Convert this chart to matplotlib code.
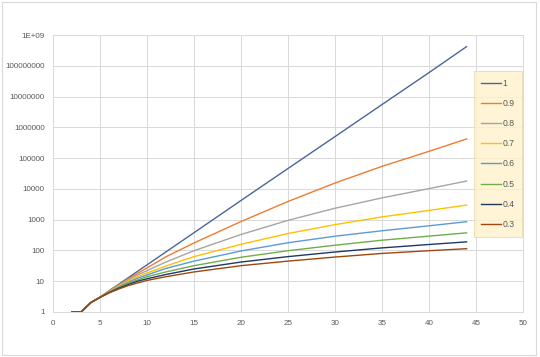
import matplotlib
matplotlib.use("Agg")
import matplotlib.pyplot as plt
from matplotlib.patches import Rectangle
from matplotlib.ticker import FixedLocator, FixedFormatter

x = [2, 3, 4, 5, 6, 7, 8, 9, 10, 12, 15, 20, 25, 30, 35, 40, 44]

s_10 = [1, 1, 2, 3, 5, 8, 13, 21, 34, 89, 377, 4200, 46000, 500000, 5.5e6, 6.0e7, 4.2e8]
s_09 = [1, 1, 2, 3, 4.9, 7.6, 12, 18, 27, 62, 175, 870, 3900, 15500, 54000, 166000, 420000]
s_08 = [1, 1, 2, 3, 4.7, 7.2, 11, 16, 22, 42, 98, 330, 950, 2350, 5100, 10200, 18000]
s_07 = [1, 1, 2, 3, 4.6, 6.9, 10, 14, 18.5, 31, 63, 158, 355, 690, 1230, 2000, 2970]
s_06 = [1, 1, 2, 3, 4.5, 6.5, 9.2, 12.5, 16, 26, 45, 96, 178, 290, 436, 632, 857]
s_05 = [1, 1, 2, 3, 4.4, 6.2, 8.5, 11, 14, 20, 32, 60, 98, 148, 215, 292, 373]
s_04 = [1, 1, 2, 3, 4.3, 5.9, 7.8, 10, 12, 16.5, 25, 42, 63, 89, 121, 156, 190]
s_03 = [1, 1, 2, 3, 4.2, 5.6, 7.2, 8.8, 10.6, 14, 20, 32, 45, 61, 80, 98, 114]

series = [s_10, s_09, s_08, s_07, s_06, s_05, s_04, s_03]
labels = ["1", "0.9", "0.8", "0.7", "0.6", "0.5", "0.4", "0.3"]
colors = ["#4A6699", "#ED7D31", "#A5A5A5", "#FFC000",
          "#5B9BD5", "#70AD47", "#1F3864", "#9E480E"]

y_ticks = [1, 10, 100, 1000, 10000, 100000, 1000000, 10000000, 100000000, 1e9]
y_labels = ["1", "10", "100", "1000", "10000", "100000", "1000000",
            "10000000", "100000000", "1E+09"]

plt.rcParams['font.family'] = ['Liberation Sans', 'DejaVu Sans']

fig = plt.figure(figsize=(5.4, 3.57), dpi=100)
fig.patches.append(Rectangle((0.003, 0.005), 0.99, 0.99, transform=fig.transFigure,
                             fill=False, edgecolor="#D9D9D9", linewidth=0.8))
ax = fig.add_axes([53 / 540, 1 - 312 / 357, 470 / 540, 277 / 357])

for ys, lab, c in zip(series, labels, colors):
    ax.plot(x, ys, color=c, linewidth=1.0, label=lab)

ax.set_yscale('log')
ax.set_ylim(1, 1e9)
ax.set_xlim(0, 50)
ax.yaxis.set_major_locator(FixedLocator(y_ticks))
ax.yaxis.set_major_formatter(FixedFormatter(y_labels))
ax.yaxis.set_minor_locator(FixedLocator([]))
ax.set_xticks(range(0, 51, 5))

ax.grid(True, color="#D9D9D9", linewidth=0.7)
ax.set_axisbelow(True)
for sp in ax.spines.values():
    sp.set_color("#D9D9D9")
    sp.set_linewidth(0.7)
ax.tick_params(length=0, labelsize=5.8, labelcolor="#595959", pad=6)

leg = ax.legend(loc='upper left', bbox_to_anchor=(0.886, 0.886), fontsize=6.2,
                frameon=True, fancybox=False, handlelength=2.3, handletextpad=0.1,
                labelspacing=1.3, borderpad=0.9, labelcolor="#595959")
leg.get_frame().set_facecolor("#FFF2CC")
leg.get_frame().set_edgecolor("#E6D9B0")
leg.get_frame().set_linewidth(0.7)

fig.savefig("out.png", dpi=100)
